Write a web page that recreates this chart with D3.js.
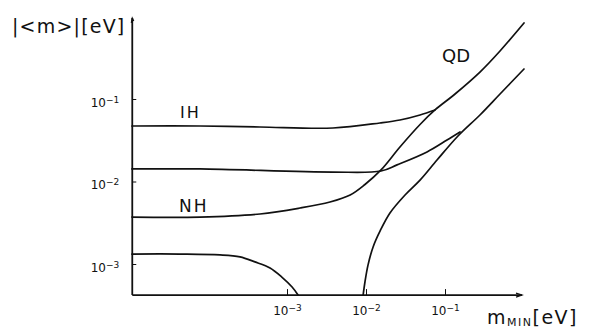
<!DOCTYPE html>
<html>
<head>
<meta charset="utf-8">
<script src="https://cdn.jsdelivr.net/npm/d3@7"></script>
<style>
  body { margin: 0; background: #fff; }
  text { font-family: "DejaVu Sans", sans-serif; fill: #111; }
</style>
</head>
<body>
<div id="chart"></div>
<script>
const WIDTH = 597;
const HEIGHT = 329;

// axis extents (eV)
const X_START = 1.1e-5, X_END = 0.944;
const Y_START = 4.2e-4, Y_END = 0.96;

const TICKS = [1e-3, 1e-2, 1e-1];
const TICK_EXP = ['-3', '-2', '-1'];

// inverted hierarchy, upper edge
const ihUpperX = [1.09e-5, 7.9e-5, 4.55e-4, 3.82e-3, 0.0150, 0.0269, 0.0483, 0.0747];
const ihUpperY = [0.0471, 0.0471, 0.0458, 0.0445, 0.0512, 0.0556, 0.0640, 0.0736];

// inverted hierarchy, lower edge
const ihLowerX = [1.09e-5, 7.9e-5, 3.82e-3, 0.0155, 0.0247, 0.0592, 0.106, 0.155];
const ihLowerY = [0.0142, 0.0142, 0.0130, 0.0134, 0.0159, 0.0228, 0.0318, 0.0398];

// normal hierarchy, upper edge (turns into the QD band)
const nhUpperX = [1.09e-5, 7.9e-5, 4.55e-4, 1.46e-3, 3.5e-3, 6.3e-3, 9.7e-3, 0.0155, 0.0269, 0.0483, 0.0747, 0.134, 0.277, 0.497, 1.0];
const nhUpperY = [3.71e-3, 3.71e-3, 4.04e-3, 4.77e-3, 5.65e-3, 6.86e-3, 9.2e-3, 0.0138, 0.0262, 0.0491, 0.0736, 0.115, 0.212, 0.382, 0.834];

// normal hierarchy, lower edge
const nhLowerX = [1.09e-5, 4.43e-5, 1.42e-4, 2.54e-4, 3.93e-4, 6.1e-4, 8.6e-4, 1.16e-3, 1.38e-3];
const nhLowerY = [1.32e-3, 1.32e-3, 1.29e-3, 1.22e-3, 1.06e-3, 8.95e-4, 6.95e-4, 5.26e-4, 4.21e-4];

// QD band, lower edge
const qdLowerX = [9.2e-3, 9.7e-3, 0.0106, 0.0123, 0.0152, 0.0201, 0.0312, 0.0483, 0.0792, 0.146, 0.277, 0.497, 1.0];
const qdLowerY = [4.21e-4, 6.05e-4, 9.7e-4, 1.61e-3, 2.55e-3, 4.15e-3, 6.86e-3, 0.0104, 0.0182, 0.0356, 0.064, 0.115, 0.231];

const curves = [
  { xs: ihUpperX, ys: ihUpperY },
  { xs: ihLowerX, ys: ihLowerY },
  { xs: nhUpperX, ys: nhUpperY },
  { xs: nhLowerX, ys: nhLowerY },
  { xs: qdLowerX, ys: qdLowerY }
];

var svg = d3.select("#chart").append("svg")
    .attr("width", WIDTH)
    .attr("height", HEIGHT);

var x = d3.scaleLog().domain([1e-3, 1e-1]).range([287, 445]);
var y = d3.scaleLog().domain([1e-3, 1e-1]).range([264, 99]);

var line = d3.line()
    .x(d => x(d[0]))
    .y(d => y(d[1]))
    .curve(d3.curveCatmullRom.alpha(0.5));

curves.forEach(c => {
    svg.append("path")
        .datum(c.xs.map((v, i) => [v, c.ys[i]]))
        .attr("fill", "none")
        .attr("stroke", "#111")
        .attr("stroke-width", 1.7)
        .attr("stroke-linecap", "round")
        .attr("d", line);
});

// axis lines
svg.append("line")
    .attr("x1", x(X_START)).attr("x2", x(X_START))
    .attr("y1", y(Y_START)).attr("y2", y(Y_END))
    .attr("stroke", "#111").attr("stroke-width", 1.8);
svg.append("path")
    .attr("d", `M${x(X_START) - 1},${y(Y_END) + 5} L${x(X_START)},${y(Y_END)} L${x(X_START) + 1.5},${y(Y_END) + 3}`)
    .attr("fill", "none").attr("stroke", "#111").attr("stroke-width", 1.2);

svg.append("line")
    .attr("x1", x(X_START)).attr("x2", x(X_END))
    .attr("y1", y(Y_START)).attr("y2", y(Y_START))
    .attr("stroke", "#111").attr("stroke-width", 1.6);
svg.append("path")
    .attr("d", `M${x(X_END) - 6},${y(Y_START) - 2} L${x(X_END)},${y(Y_START)} L${x(X_END) - 6},${y(Y_START) + 2}`)
    .attr("fill", "none").attr("stroke", "#111").attr("stroke-width", 1.2);

// ticks via d3 axes, then rewrite labels with superscripts
const yAxis = svg.append("g")
    .attr("transform", `translate(${x(X_START)},0)`)
    .call(d3.axisLeft(y).tickValues(TICKS).tickSizeInner(-4).tickSizeOuter(0).tickPadding(13));
const xAxis = svg.append("g")
    .attr("transform", `translate(0,${y(Y_START)})`)
    .call(d3.axisBottom(x).tickValues(TICKS).tickSizeInner(-6).tickSizeOuter(0).tickPadding(11));

[yAxis, xAxis].forEach(g => {
    g.select(".domain").remove();
    g.selectAll(".tick line").attr("stroke", "#111").attr("stroke-width", 1);
    g.selectAll(".tick text").each(function(d) {
        const t = d3.select(this).text(null)
            .attr("font-size", 12)
            .attr("font-family", "DejaVu Sans, sans-serif")
            .attr("fill", "#111");
        t.append("tspan").text("10");
        t.append("tspan").attr("dy", "-0.45em").attr("font-size", 9)
            .text(TICK_EXP[TICKS.indexOf(d)].replace('-', '\u2212'));
    });
});
yAxis.selectAll(".tick text").attr("dy", "0.6em");

// axis titles
svg.append("text")
    .attr("x", 12).attr("y", 33)
    .attr("font-size", 19)
    .attr("letter-spacing", 1.2)
    .text("|<m>|[eV]");

const xt = svg.append("text")
    .attr("x", 487).attr("y", 324)
    .attr("font-size", 19)
    .attr("letter-spacing", 1.5);
xt.append("tspan").text("m");
xt.append("tspan").attr("font-size", 11).attr("dy", 2).text("MIN");
xt.append("tspan").attr("dy", -2).text("[eV]");

// band labels
svg.append("text").attr("x", 180).attr("y", 118).attr("font-size", 16).attr("letter-spacing", 2).text("IH");
svg.append("text").attr("x", 179).attr("y", 212).attr("font-size", 17).attr("letter-spacing", 2).text("NH");
svg.append("text").attr("x", 442).attr("y", 62).attr("font-size", 18).text("QD");
</script>
</body>
</html>
